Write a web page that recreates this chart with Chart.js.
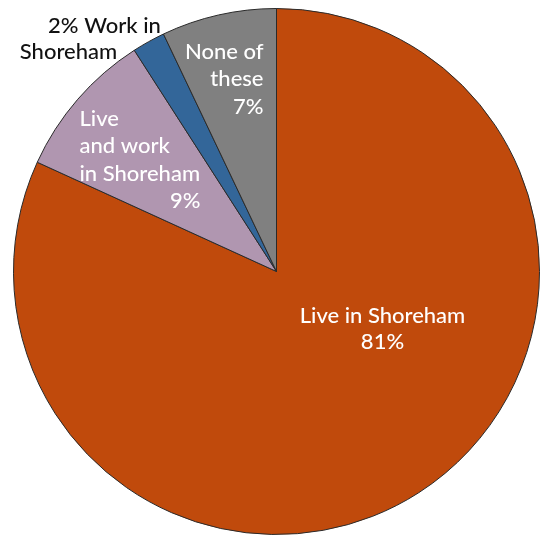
<!DOCTYPE html>
<html>
<head>
<meta charset="utf-8">
<script src="https://cdn.jsdelivr.net/npm/chart.js@4"></script>
<style>
  html, body { margin: 0; padding: 0; background: #fff; }
  #wrap { width: 547px; height: 535px; }
</style>
</head>
<body>
<div id="wrap"><canvas id="pie"></canvas></div>
<script>
// commuting split, percent
const categories = ['Live in Shoreham', 'Live and work in Shoreham', 'Work in Shoreham', 'None of these'];
const shares = [81, 9, 2, 7];
const sliceColours = ['#c04a0c', '#b096b0', '#336699', '#808080'];

// label lines per slice, offsets are from the pie centre (x, baseline y)
const sliceLabels = [
  {colour: '#fff', lines: [
    {text: 'Live in Shoreham', dx: 106, dy: 51, align: 'center'},
    {text: '81%', dx: 106, dy: 77, align: 'center'}
  ]},
  {colour: '#fff', lines: [
    {text: 'Live', dx: -197, dy: -146, align: 'left'},
    {text: 'and work', dx: -197, dy: -119, align: 'left'},
    {text: 'in Shoreham', dx: -197, dy: -91, align: 'left'},
    {text: '9%', dx: -76, dy: -64, align: 'right'}
  ]},
  {colour: '#111', lines: [
    {text: '2% Work in', dx: -172, dy: -239, align: 'center'},
    {text: 'Shoreham', dx: -208, dy: -213, align: 'center'}
  ]},
  {colour: '#fff', lines: [
    {text: 'None of', dx: -13, dy: -213, align: 'right'},
    {text: 'these', dx: -13, dy: -186, align: 'right'},
    {text: '7%', dx: -13, dy: -158, align: 'right'}
  ]}
];

const labelPlugin = {
  id: 'sliceLabels',
  afterDatasetsDraw(chart) {
    const arc = chart.getDatasetMeta(0).data[0];
    const ctx = chart.ctx;
    ctx.save();
    ctx.font = '500 22px Lato, "Open Sans", sans-serif';
    ctx.textBaseline = 'alphabetic';
    sliceLabels.forEach(lbl => {
      ctx.fillStyle = lbl.colour;
      lbl.lines.forEach(l => {
        ctx.textAlign = l.align;
        ctx.fillText(l.text, arc.x + l.dx, arc.y + l.dy);
      });
    });
    ctx.restore();
  }
};

new Chart(document.getElementById('pie'), {
  type: 'pie',
  data: {
    labels: categories,
    datasets: [{
      data: shares,
      backgroundColor: sliceColours,
      borderColor: '#2a2a2a',
      borderWidth: 1
    }]
  },
  options: {
    responsive: true,
    maintainAspectRatio: false,
    animation: false,
    layout: { padding: {top: 8, left: 6, right: 0, bottom: 0} },
    plugins: {
      legend: { display: false },
      tooltip: { enabled: false }
    }
  },
  plugins: [labelPlugin]
});
</script>
</body>
</html>
